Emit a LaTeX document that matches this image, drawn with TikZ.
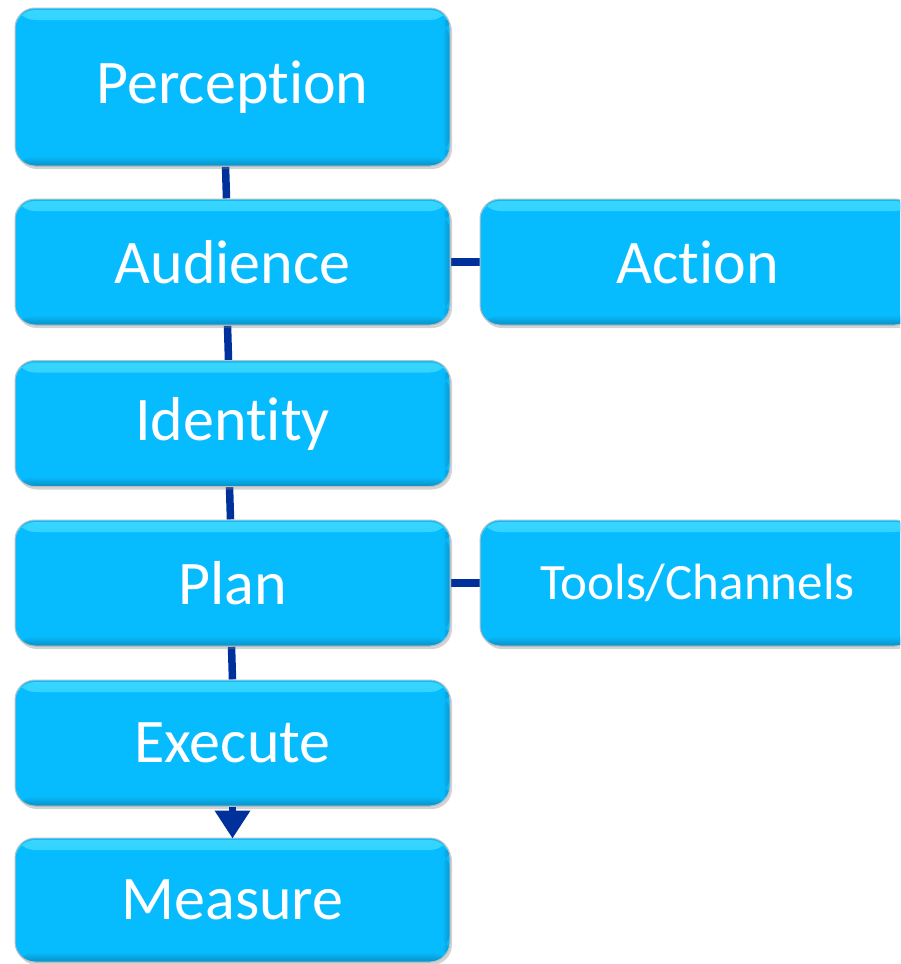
\documentclass[tikz,border=0pt]{standalone}
\usepackage{fontspec}
\setmainfont{Carlito}[RawFeature={-liga;-clig}]
\usetikzlibrary{shadows,arrows.meta,backgrounds}
\definecolor{boxblue}{HTML}{07BCFE}
\definecolor{bevtop}{HTML}{38D6FF}
\definecolor{bevbot}{HTML}{0A8FC4}
\definecolor{linkblue}{HTML}{00309C}
\tikzset{
  stage/.style={rectangle, rounded corners=20pt, fill=boxblue, draw=black!25, line width=1pt,
    minimum width=435pt, minimum height=126pt, inner sep=0pt,
    text=white, font=\fontsize{62}{70}\selectfont,
    drop shadow={opacity=0.35, shadow xshift=2pt, shadow yshift=-3pt},
    path picture={
      \fill[top color=bevtop, bottom color=boxblue]
        ([yshift=-2pt]path picture bounding box.north west) rectangle ([yshift=-12pt]path picture bounding box.north east);
      \fill[top color=boxblue, bottom color=bevbot]
        ([yshift=10pt]path picture bounding box.south west) rectangle (path picture bounding box.south east);
      \fill[left color=boxblue, right color=bevbot, opacity=0.8]
        ([xshift=-8pt,yshift=-12pt]path picture bounding box.north east) rectangle ([yshift=10pt]path picture bounding box.south east);
    }},
  link/.style={draw=linkblue, line width=7.5pt}
}
\begin{document}
\begin{tikzpicture}[x=1pt,y=-1pt]
\useasboundingbox (0,0) rectangle (900,964);
\clip (0,0) rectangle (900,964);
\node[stage, minimum height=158pt] (per) at (232.5,87) {Perception};
\node[stage] (aud) at (232.5,262) {Audience};
\node[stage] (act) at (697.5,262) {Action};
\node[stage] (ide) at (232.5,423.5) {Identity};
\node[stage] (pla) at (232.5,583) {Plan};
\node[stage, font=\fontsize{51}{60}\selectfont] (too) at (697.5,583) {Tools/Channels};
\node[stage] (exe) at (232.5,743) {Execute};
\node[stage, minimum height=124pt] (mea) at (232.5,900) {Measure};
\begin{scope}[on background layer]
\draw[link] ([xshift=-7pt]per.south) -- ([xshift=-6pt]aud.north);
\draw[link] ([xshift=-5pt]aud.south) -- ([xshift=-4pt]ide.north);
\draw[link] ([xshift=-3pt]ide.south) -- ([xshift=-2pt]pla.north);
\draw[link] ([xshift=-1pt]pla.south) -- ([xshift=0pt]exe.north);
\draw[link] (aud.east) -- (act.west);
\draw[link] (pla.east) -- (too.west);
\end{scope}
\draw[link, -{Triangle[width=34pt,length=28pt]}, shorten >=-1pt] ([xshift=0pt]exe.south) -- (mea.north);
\end{tikzpicture}
\end{document}
